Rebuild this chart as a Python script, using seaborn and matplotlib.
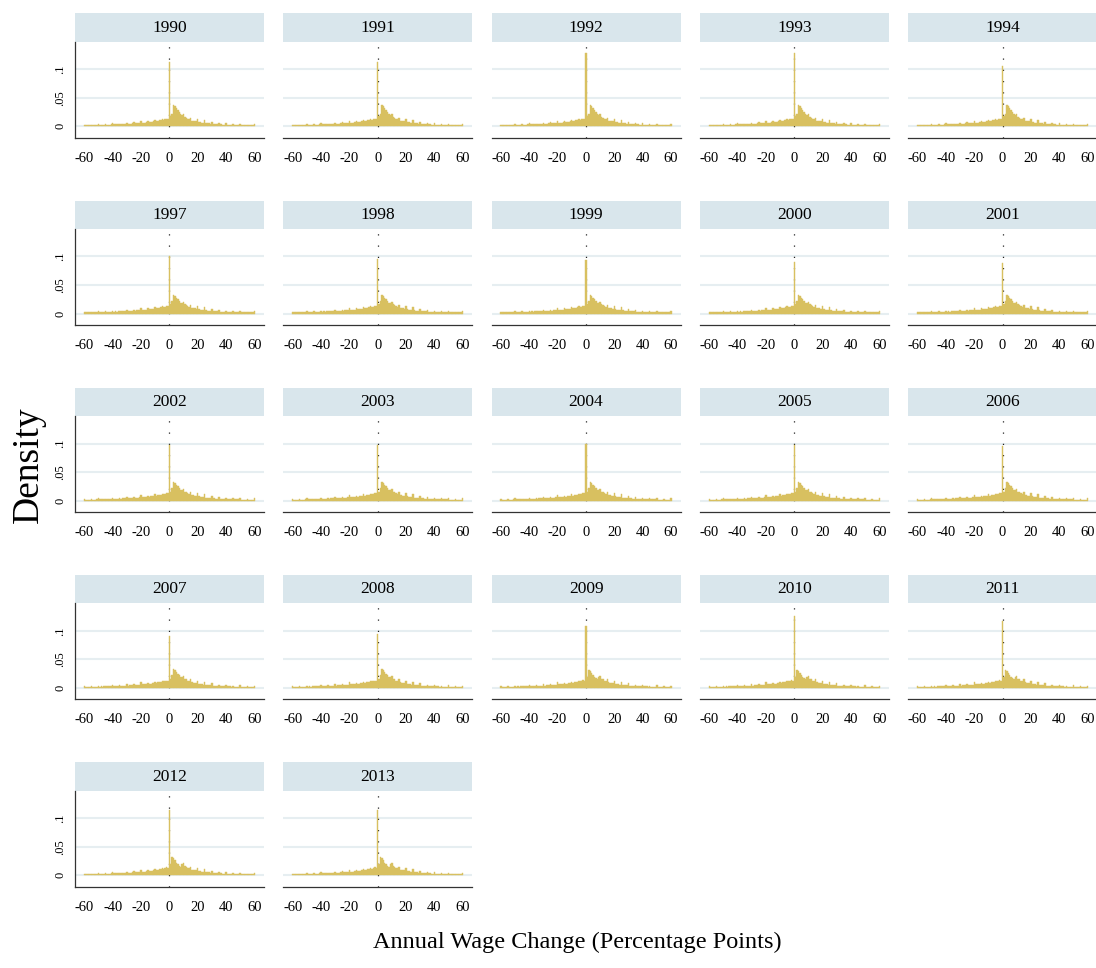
import numpy as np
import pandas as pd
import matplotlib
matplotlib.use("Agg")
import matplotlib.pyplot as plt
import seaborn as sns
from matplotlib.patches import Rectangle

# ---------------------------------------------------------------------------
# Histogram densities of annual wage changes (1-point bins, -60 .. 60)
# ---------------------------------------------------------------------------
years = [1990, 1991, 1992, 1993, 1994, 1997, 1998, 1999, 2000, 2001, 2002,
         2003, 2004, 2005, 2006, 2007, 2008, 2009, 2010, 2011, 2012, 2013]

# share of exact zero changes (the spike bin at 0)
zero_spike = [0.112, 0.112, 0.129, 0.128, 0.106, 0.101, 0.096, 0.093, 0.090,
              0.088, 0.098, 0.098, 0.100, 0.098, 0.095, 0.091, 0.094, 0.108,
              0.126, 0.117, 0.115, 0.115]

# which shape of the small-change hump each year has
hump_group = ["early"] * 5 + ["mid"] * 12 + ["late"] * 5

# bins -2, -1, 1, 2, 3, 4, 5, 6, 7, 8
hump_early = [0.012, 0.012, 0.018, 0.022, 0.037, 0.035, 0.032, 0.029, 0.025, 0.022]
hump_mid = [0.013, 0.013, 0.016, 0.022, 0.033, 0.031, 0.028, 0.025, 0.022, 0.019]
hump_late = [0.014, 0.013, 0.020, 0.032, 0.030, 0.026, 0.022, 0.019, 0.017, 0.015]

# bins -60 .. -3
left_tail = [0.0030,
             0.0018, 0.0020, 0.0018, 0.0020, 0.0030, 0.0020, 0.0022, 0.0022, 0.0024,
             0.0042, 0.0024, 0.0028, 0.0026, 0.0028, 0.0036, 0.0028, 0.0030, 0.0030, 0.0032,
             0.0050, 0.0032, 0.0036, 0.0034, 0.0038, 0.0046, 0.0038, 0.0040, 0.0042, 0.0042,
             0.0062, 0.0044, 0.0048, 0.0046, 0.0050, 0.0070, 0.0052, 0.0054, 0.0056, 0.0058,
             0.0100, 0.0062, 0.0066, 0.0066, 0.0070, 0.0090, 0.0074, 0.0078, 0.0082, 0.0084,
             0.0110, 0.0092, 0.0098, 0.0102, 0.0108, 0.0125, 0.0118, 0.0122]

# bins 9 .. 60
right_tail = [0.019, 0.021, 0.016, 0.015, 0.013, 0.012, 0.015, 0.010, 0.0095, 0.009,
              0.0085, 0.013, 0.0075, 0.007, 0.0065, 0.006, 0.011, 0.0055, 0.005, 0.005,
              0.0045, 0.008, 0.0042, 0.004, 0.0038, 0.0036, 0.006, 0.0034, 0.0032, 0.0031,
              0.003, 0.005, 0.0029, 0.0028, 0.0027, 0.0026, 0.004, 0.0025, 0.0024, 0.0023,
              0.0023, 0.0045, 0.0022, 0.0021, 0.0021, 0.002, 0.003, 0.002, 0.0019, 0.0019,
              0.0019, 0.0042]

x_ticks = [-60, -40, -20, 0, 20, 40, 60]
x_ticklabels = ["-60", "-40", "-20", "0", "20", "40", "60"]
y_ticks = [0, 0.05, 0.1]
y_ticklabels = ["0", ".05", ".1"]

BAR = "#D8C060"
STRIP = "#D9E6EC"
GRID = "#E6EEF1"
AXIS = "#333333"

humps = {"early": hump_early, "mid": hump_mid, "late": hump_late}
bin_centers = list(range(-60, 61))

rows = []
for yr, spike, grp in zip(years, zero_spike, hump_group):
    h = humps[grp]
    dens = left_tail + h[:2] + [spike] + h[2:] + right_tail
    for c, d in zip(bin_centers, dens):
        rows.append({"year": yr, "change": float(c), "density": d})
df = pd.DataFrame(rows)

sns.set_style("white")
plt.rcParams["font.family"] = ["Liberation Serif", "DejaVu Serif"]
plt.rcParams["text.color"] = "black"
plt.rcParams["axes.labelcolor"] = "black"

g = sns.FacetGrid(df, col="year", col_wrap=5, sharex=False, sharey=False,
                  height=1.9, aspect=1.1, despine=True)
g.map_dataframe(sns.histplot, x="change", weights="density",
                binwidth=1, binrange=(-60.5, 60.5),
                color=BAR, alpha=1, linewidth=0.3, edgecolor=BAR, zorder=2)
g.set_titles("")
g.set_axis_labels("", "")

fig = g.figure
fig.set_size_inches(10.96, 9.68)
W, H = 1096.0, 968.0

ax_w, ax_h = 189.0, 96.0
strip_h = 28.4
for i, (ax, yr) in enumerate(zip(g.axes.flat, years)):
    r, c = divmod(i, 5)
    left = 75.0 + c * 208.3
    bottom = 137.7 + r * 187.25
    ax.set_position([left / W, 1 - bottom / H, ax_w / W, ax_h / H])

    ax.set_xlim(-66.6, 66.8)
    ax.set_ylim(-0.02, 0.148)
    ax.set_xticks(x_ticks, x_ticklabels)
    ax.set_yticks(y_ticks, y_ticklabels, rotation=90, va="center")
    ax.set_axisbelow(True)
    ax.grid(axis="y", color=GRID, lw=1.5, zorder=0)
    ax.grid(axis="x", visible=False)
    ax.axvline(0, color="#222222", lw=0.9, ls=(0, (1, 8)), zorder=1)

    ax.tick_params(axis="x", length=5, width=0.8, color="#555555",
                   labelsize=10.5, pad=5, labelcolor="black")
    ax.tick_params(axis="y", length=3.2, width=0.8, color="#555555",
                   labelsize=9, pad=3, labelcolor="black")
    for s in ("bottom", "left"):
        ax.spines[s].set_color(AXIS)
        ax.spines[s].set_linewidth(0.9)
    if c != 0:
        ax.spines["left"].set_visible(False)
        ax.tick_params(axis="y", left=False, labelleft=False)

    # title strip above each panel
    ax.add_patch(Rectangle((0, 1), 1, strip_h / ax_h, transform=ax.transAxes,
                           facecolor=STRIP, edgecolor="none", clip_on=False))
    ax.text(0.5, 1 + strip_h / 2 / ax_h, str(yr), transform=ax.transAxes,
            ha="center", va="center", fontsize=12.5, color="black")

fig.text(29 / W, 1 - 465 / H, "Density", rotation=90, ha="center",
         va="center", fontsize=27, color="black")
fig.text(577 / W, 1 - 948.3 / H, "Annual Wage Change (Percentage Points)",
         ha="center", va="baseline", fontsize=17.5, color="black")

fig.savefig("out.png", dpi=100)
